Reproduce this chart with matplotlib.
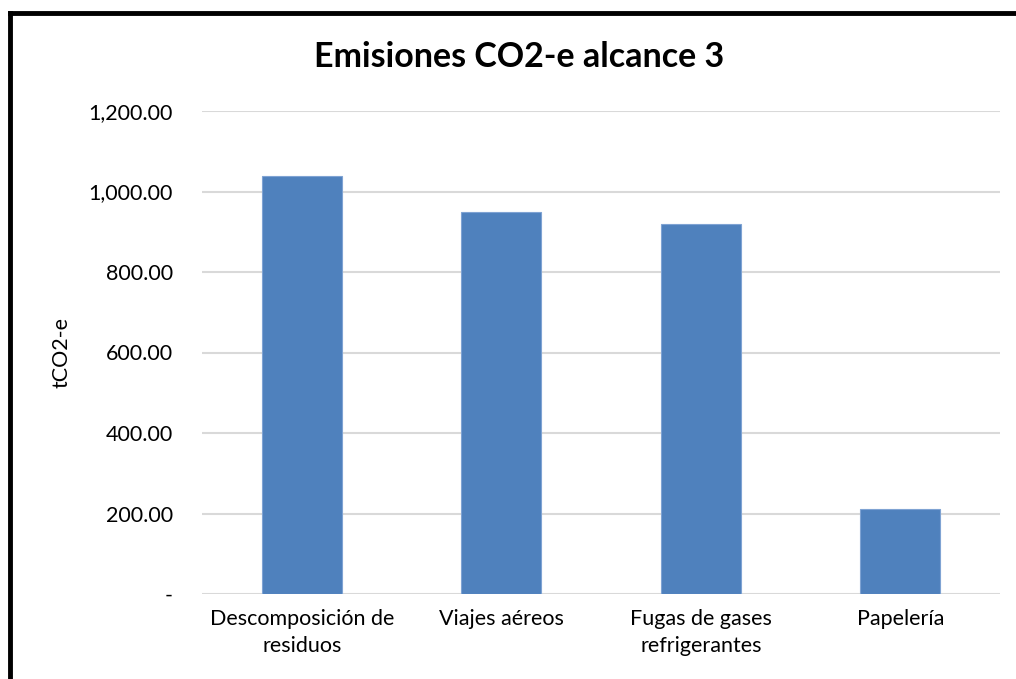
import matplotlib
matplotlib.use("Agg")
import matplotlib.pyplot as plt
from matplotlib.lines import Line2D

categories = ["Descomposición de\nresiduos", "Viajes aéreos", "Fugas de gases\nrefrigerantes", "Papelería"]
values = [1038, 948, 919, 211]
yticks = [0, 200, 400, 600, 800, 1000, 1200]
ytick_labels = ["-", "200.00", "400.00", "600.00", "800.00", "1,000.00", "1,200.00"]

plt.rcParams['font.family'] = ['Lato', 'DejaVu Sans']

fig = plt.figure(figsize=(10.16, 6.79), dpi=100)
ax = fig.add_axes([202/1016, 1-594/679, (1000-202)/1016, (594-111)/679])

x = list(range(len(categories)))
ax.bar(x, values, width=0.4, color="#4f81bd", edgecolor="#7fa3d3", linewidth=0.8, zorder=3)
ax.set_xlim(-0.5, len(categories)-0.5)
ax.set_ylim(0, 1200)
ax.set_yticks(yticks)
ax.set_yticklabels(ytick_labels, fontsize=15.5)
ax.set_xticks(x)
ax.set_xticklabels(categories, fontsize=15.5, linespacing=1.45)
ax.tick_params(axis='x', length=0, pad=11)
ax.tick_params(axis='y', length=0, pad=21)
ax.grid(axis='y', color="#d9d9d9", linewidth=1.5, zorder=0)
for s in ax.spines.values():
    s.set_visible(False)
ax.set_ylabel("tCO2-e", fontsize=15.5)
ax.yaxis.set_label_coords(-0.163, 0.5)

fig.text(519/1016, 1-57/679, "Emisiones CO2-e alcance 3", ha='center', va='center',
         fontsize=24.5, fontweight='bold')

y_top = 1 - 13/679
x_left = 10/1016
fig.add_artist(Line2D([x_left, 1.0], [y_top, y_top], transform=fig.transFigure,
                      color='black', linewidth=3.5, solid_capstyle='projecting'))
fig.add_artist(Line2D([x_left, x_left], [0.0, y_top], transform=fig.transFigure,
                      color='black', linewidth=3.5, solid_capstyle='projecting'))

fig.savefig("out.png", dpi=100)
